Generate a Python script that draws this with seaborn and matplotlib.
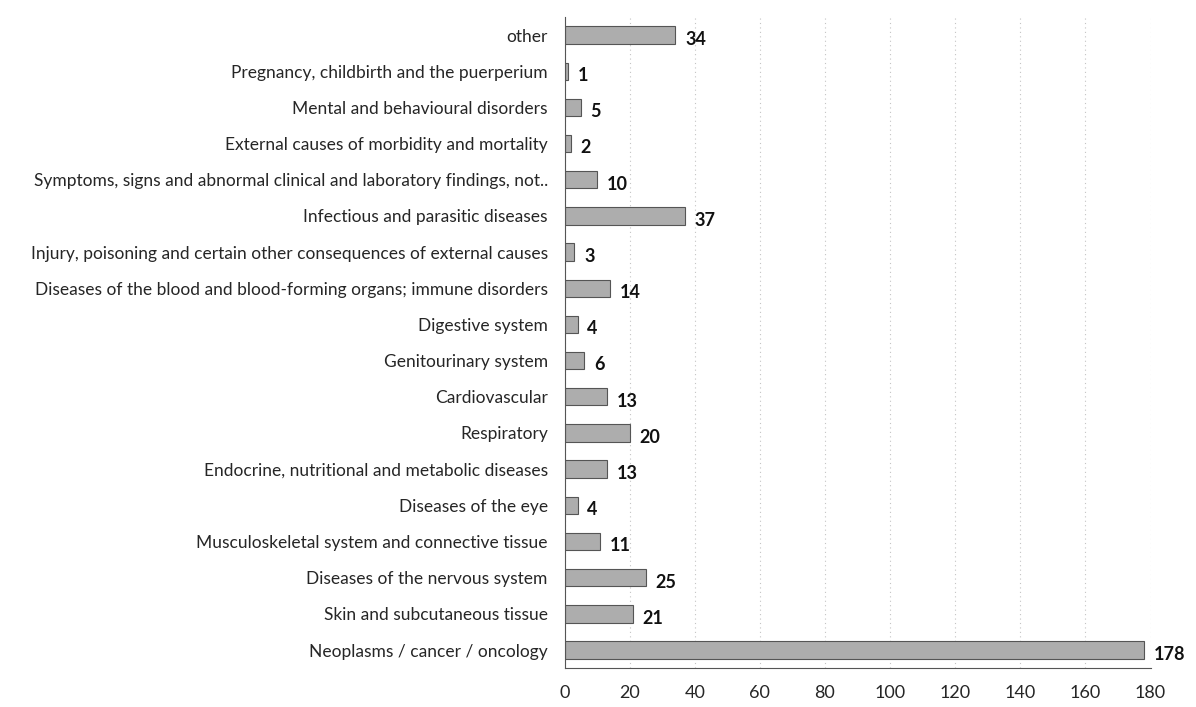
import pandas as pd
import matplotlib
matplotlib.use("Agg")
import matplotlib.pyplot as plt
import seaborn as sns

# categories listed top to bottom as in the chart
categories = [
    "other",
    "Pregnancy, childbirth and the puerperium",
    "Mental and behavioural disorders",
    "External causes of morbidity and mortality",
    "Symptoms, signs and abnormal clinical and laboratory findings, not..",
    "Infectious and parasitic diseases",
    "Injury, poisoning and certain other consequences of external causes",
    "Diseases of the blood and blood-forming organs; immune disorders",
    "Digestive system",
    "Genitourinary system",
    "Cardiovascular",
    "Respiratory",
    "Endocrine, nutritional and metabolic diseases",
    "Diseases of the eye",
    "Musculoskeletal system and connective tissue",
    "Diseases of the nervous system",
    "Skin and subcutaneous tissue",
    "Neoplasms / cancer / oncology",
]
counts = [34, 1, 5, 2, 10, 37, 3, 14, 4, 6, 13, 20, 13, 4, 11, 25, 21, 178]
xticks = [0, 20, 40, 60, 80, 100, 120, 140, 160, 180]

df = pd.DataFrame({"category": categories, "count": counts})

sns.set_style("white")
plt.rcParams["font.family"] = ["Lato", "DejaVu Sans"]

fig = plt.figure(figsize=(11.96, 7.07), dpi=100)
ax = fig.add_axes([0.472, 0.055, 0.49, 0.921])

sns.barplot(data=df, x="count", y="category", order=categories, color="#adadad",
            edgecolor="#555555", linewidth=0.8, width=0.48, saturation=1, ax=ax)

for i, v in enumerate(counts):
    ax.text(v + 3, i + 0.12, str(v), va="center", ha="left",
            fontsize=13, fontweight="bold", color="#111111")

ax.set_xlim(0, 180)
ax.set_xticks(xticks)
ax.set_xlabel("")
ax.set_ylabel("")
ax.tick_params(axis="y", labelsize=12.5, length=4, color="#555555", pad=8)
ax.tick_params(axis="x", labelsize=13, length=4, color="#555555", pad=8)
ax.xaxis.grid(True, linestyle=(0, (1, 3)), color="#c4c4c4", linewidth=0.8)
ax.set_axisbelow(True)
for side in ["top", "right"]:
    ax.spines[side].set_visible(False)
ax.spines["left"].set_color("#555555")
ax.spines["bottom"].set_color("#555555")

fig.savefig("out.png", dpi=100)
